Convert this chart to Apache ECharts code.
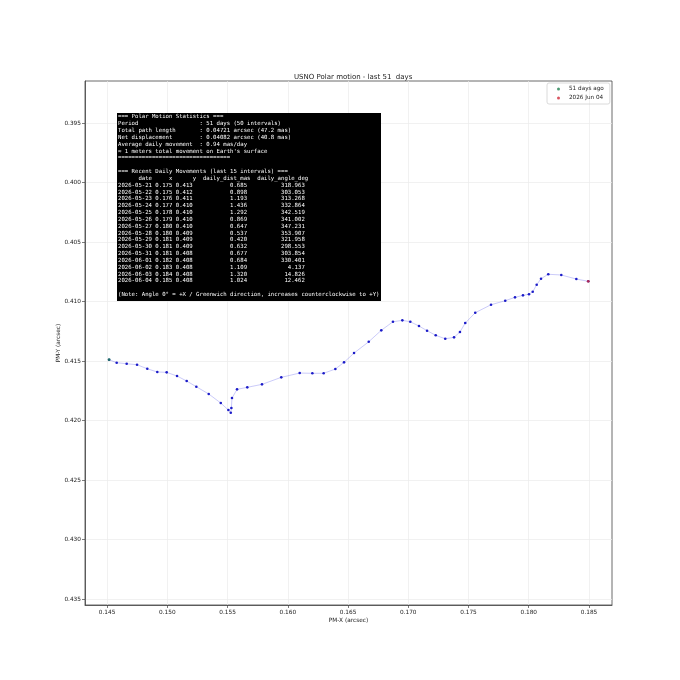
<!DOCTYPE html>
<html>
<head>
<meta charset="utf-8">
<script src="https://cdn.jsdelivr.net/npm/echarts@6/dist/echarts.min.js"></script>
<style>
html, body { margin: 0; padding: 0; background: #fff; }
#chart { width: 680px; height: 680px; }
</style>
</head>
<body>
<div id="chart"></div>
<script>
// polar motion path, oldest first (arcsec)
var pmX = [0.14517, 0.14580, 0.14663, 0.14749, 0.14834, 0.14917, 0.14995, 0.15081, 0.15161, 0.15241,
           0.15344, 0.15444, 0.15507, 0.15527, 0.15532, 0.15537, 0.15579, 0.15664, 0.15786, 0.15946,
           0.16099, 0.16204, 0.16298, 0.16395, 0.16467, 0.16550, 0.16672, 0.16776, 0.16873, 0.16951,
           0.17017, 0.17089, 0.17156, 0.17228, 0.17307, 0.17380, 0.17429, 0.17473, 0.17556, 0.17687,
           0.17805, 0.17886, 0.17952, 0.18002, 0.18033, 0.18066, 0.18102, 0.18162, 0.18270, 0.18395,
           0.18494];
var pmY = [0.41489, 0.41514, 0.41523, 0.41531, 0.41565, 0.41592, 0.41595, 0.41626, 0.41668, 0.41716,
           0.41777, 0.41853, 0.41912, 0.41934, 0.41895, 0.41811, 0.41738, 0.41721, 0.41696, 0.41637,
           0.41601, 0.41603, 0.41603, 0.41567, 0.41511, 0.41433, 0.41338, 0.41242, 0.41170, 0.41158,
           0.41170, 0.41206, 0.41245, 0.41284, 0.41313, 0.41301, 0.41256, 0.41181, 0.41094, 0.41027,
           0.40993, 0.40965, 0.40948, 0.40939, 0.40918, 0.40859, 0.40808, 0.40771, 0.40777, 0.40811,
           0.40830];

var xTicks = [0.145, 0.150, 0.155, 0.160, 0.165, 0.170, 0.175, 0.180, 0.185];
var yTicks = [0.395, 0.400, 0.405, 0.410, 0.415, 0.420, 0.425, 0.430, 0.435];

// recent daily movements table
var tDate = ['2026-05-21', '2026-05-22', '2026-05-23', '2026-05-24', '2026-05-25',
             '2026-05-26', '2026-05-27', '2026-05-28', '2026-05-29', '2026-05-30',
             '2026-05-31', '2026-06-01', '2026-06-02', '2026-06-03', '2026-06-04'];
var tX = ['0.175', '0.175', '0.176', '0.177', '0.178', '0.179', '0.180', '0.180',
          '0.181', '0.181', '0.181', '0.182', '0.183', '0.184', '0.185'];
var tY = ['0.413', '0.412', '0.411', '0.410', '0.410', '0.410', '0.410', '0.409',
          '0.409', '0.409', '0.408', '0.408', '0.408', '0.408', '0.408'];
var tDist = ['0.685', '0.898', '1.193', '1.436', '1.292', '0.869', '0.647', '0.537',
             '0.420', '0.632', '0.677', '0.684', '1.109', '1.320', '1.024'];
var tAngle = ['318.963', '303.053', '313.268', '332.864', '342.519', '341.002', '347.231', '353.907',
              '321.958', '298.553', '303.854', '330.401', '4.137', '14.826', '12.462'];

function pad(s, n) { return (s + '                              ').slice(0, n); }

var lines = [
    '=== Polar Motion Statistics ===',
    pad('Period', 24) + ': 51 days (50 intervals)',
    pad('Total path length', 24) + ': 0.04721 arcsec (47.2 mas)',
    pad('Net displacement', 24) + ': 0.04082 arcsec (40.8 mas)',
    pad('Average daily movement', 24) + ': 0.94 mas/day',
    '\u2248 1 meters total movement on Earth\'s surface',
    '=================================',
    '',
    '=== Recent Daily Movements (last 15 intervals) ===',
    '      date     x      y  daily_dist_mas  daily_angle_deg'
];
for (var i = 0; i < tDate.length; i++) {
    lines.push(tDate[i] + ' ' + tX[i] + ' ' + tY[i] + '  ' +
        tDist[i].padStart(14) + '  ' + tAngle[i].padStart(15));
}
lines.push('');
lines.push('(Note: Angle 0\u00b0 = +X / Greenwich direction, increases counterclockwise to +Y)');

var path = [];
for (var j = 0; j < pmX.length; j++) {
    path.push([pmX[j], pmY[j]]);
}
var last = pmX.length - 1;

var myChart = echarts.init(document.getElementById('chart'));

var option = {
    animation: false,
    backgroundColor: '#fff',
    title: {
        text: 'USNO Polar motion - last 51  days',
        left: 289,
        top: 69,
        textStyle: { fontFamily: 'DejaVu Sans', fontSize: 7, fontWeight: 'normal', color: '#222' }
    },
    legend: {
        data: ['51 days ago', '2026 Jun 04'],
        orient: 'vertical',
        left: 547,
        top: 83,
        padding: [3, 6, 3, 10],
        itemGap: 3,
        itemWidth: 3,
        itemHeight: 3,
        icon: 'circle',
        borderColor: '#d0d0d0',
        borderWidth: 0.8,
        borderRadius: 2,
        textStyle: { fontFamily: 'DejaVu Sans', fontSize: 5.7, color: '#222', padding: [0, 0, 0, 4] }
    },
    grid: {
        left: 85,
        right: 68,
        top: 81,
        bottom: 75,
        show: true,
        borderColor: '#444',
        borderWidth: 0.8
    },
    xAxis: {
        type: 'value',
        min: 0.14317,
        max: 0.18691,
        name: 'PM-X (arcsec)',
        nameLocation: 'middle',
        nameGap: 12,
        nameMoveOverlap: false,
        nameTextStyle: { fontFamily: 'DejaVu Sans', fontSize: 5.8, color: '#222' },
        axisLine: { show: true, lineStyle: { color: '#444', width: 0.8 } },
        axisTick: { show: true, length: 3, customValues: xTicks, lineStyle: { color: '#444', width: 0.7 } },
        axisLabel: {
            customValues: xTicks,
            margin: 4,
            fontFamily: 'DejaVu Sans',
            fontSize: 5.8,
            color: '#222',
            formatter: function (v) { return v.toFixed(3); }
        },
        splitLine: { show: true, lineStyle: { color: '#ebebeb', width: 0.7 } }
    },
    yAxis: {
        type: 'value',
        inverse: true,
        min: 0.39147,
        max: 0.4355,
        name: 'PM-Y (arcsec)',
        nameLocation: 'middle',
        nameGap: 24,
        nameMoveOverlap: false,
        nameTextStyle: { fontFamily: 'DejaVu Sans', fontSize: 5.8, color: '#222' },
        axisLine: { show: true, lineStyle: { color: '#444', width: 0.8 } },
        axisTick: { show: true, length: 3, customValues: yTicks, lineStyle: { color: '#444', width: 0.7 } },
        axisLabel: {
            customValues: yTicks,
            margin: 4,
            fontFamily: 'DejaVu Sans',
            fontSize: 5.8,
            color: '#222',
            formatter: function (v) { return v.toFixed(3); }
        },
        splitLine: { show: true, lineStyle: { color: '#ebebeb', width: 0.7 } }
    },
    graphic: [
        {
            type: 'rect',
            shape: { x: 117, y: 113, width: 264, height: 188 },
            style: { fill: '#000' },
            z: 100
        },
        {
            type: 'text',
            x: 118,
            y: 113.6,
            z: 101,
            style: {
                text: lines.join('\n'),
                fill: '#fff',
                font: '5.65px "DejaVu Sans Mono"',
                lineHeight: 6.83,
                verticalAlign: 'top',
                align: 'left'
            }
        }
    ],
    series: [
        {
            name: 'path',
            type: 'line',
            data: path,
            symbol: 'circle',
            symbolSize: 2.6,
            showSymbol: true,
            itemStyle: { color: '#1c1cc8' },
            lineStyle: { color: 'rgba(90,90,235,0.4)', width: 0.8 },
            z: 2
        },
        {
            name: '51 days ago',
            type: 'scatter',
            data: [[pmX[0], pmY[0]]],
            symbolSize: 2.8,
            itemStyle: { color: '#1f7f50' },
            z: 3
        },
        {
            name: '2026 Jun 04',
            type: 'scatter',
            data: [[pmX[last], pmY[last]]],
            symbolSize: 2.8,
            itemStyle: { color: '#d02a3a' },
            z: 3
        }
    ]
};

myChart.setOption(option);
</script>
</body>
</html>
